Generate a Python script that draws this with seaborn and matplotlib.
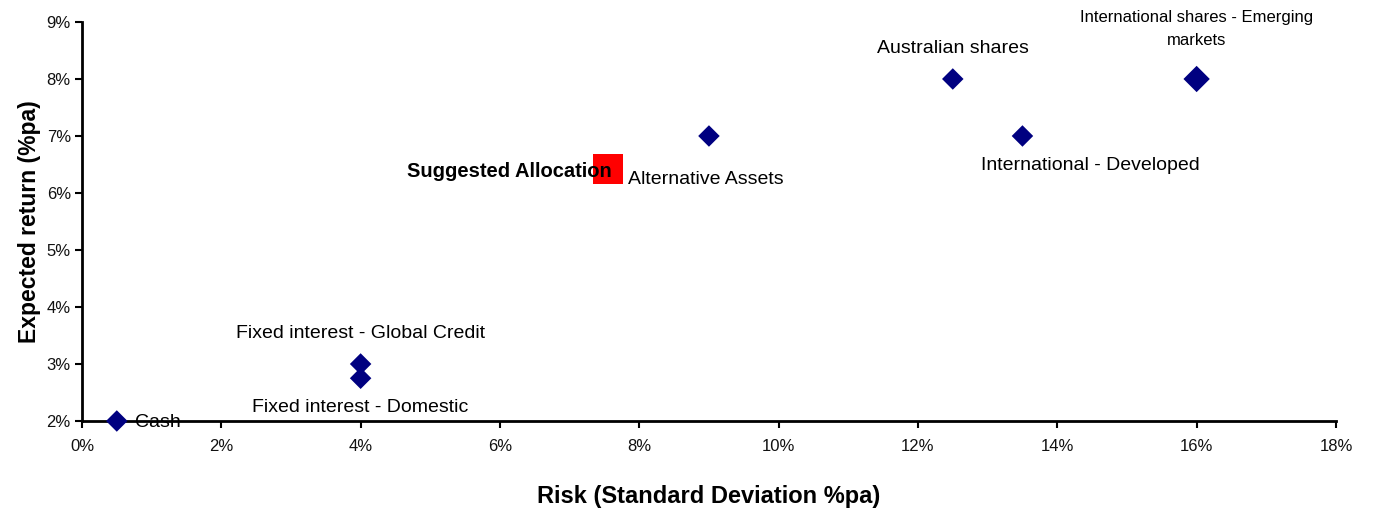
import matplotlib
matplotlib.use("Agg")
import matplotlib.pyplot as plt
import seaborn as sns
import pandas as pd
from matplotlib.ticker import PercentFormatter

# Asset classes: risk (std dev, %pa) and expected return (%pa)
assets = ["Cash", "Fixed interest - Global Credit", "Fixed interest - Domestic",
          "Alternative Assets", "Australian shares", "International - Developed",
          "International shares - Emerging\nmarkets"]
risk = [0.5, 4.0, 4.0, 9.0, 12.5, 13.5, 16.0]
ret = [2.0, 3.0, 2.75, 7.0, 8.0, 7.0, 8.0]

# Portfolio point
alloc_label = "Suggested Allocation"
alloc_risk = [7.55]
alloc_ret = [6.42]

x_ticks = list(range(0, 19, 2))
y_ticks = list(range(2, 10))

sns.set_theme(style="white")
plt.rcParams["font.family"] = ["Liberation Sans", "DejaVu Sans"]
plt.rcParams["text.color"] = "black"
plt.rcParams["axes.labelcolor"] = "black"

fig = plt.figure(figsize=(13.75, 5.09), dpi=100)
ax = fig.add_axes([0.0596, 0.1729, 0.912, 0.7839])

df = pd.DataFrame({"asset": assets, "risk": risk, "ret": ret})
main = df.iloc[:-1]
emerging = df.iloc[-1:]

sns.scatterplot(data=main, x="risk", y="ret", marker="D", s=120, color="#000080",
                edgecolor="none", ax=ax, zorder=3, clip_on=False)
sns.scatterplot(data=emerging, x="risk", y="ret", marker="D", s=180, color="#000080",
                edgecolor="none", ax=ax, zorder=3, clip_on=False)
sns.scatterplot(x=alloc_risk, y=alloc_ret, marker="s", s=440, color="#ff0000",
                edgecolor="none", ax=ax, zorder=2, clip_on=False)

# Label offsets in points relative to each marker
offsets = {
    "Cash": (13, -1, "left", "center", 14, 1.2),
    "Fixed interest - Global Credit": (0, 22, "center", "center", 14, 1.2),
    "Fixed interest - Domestic": (0, -21, "center", "center", 14, 1.2),
    "Alternative Assets": (-58, -31, "left", "center", 14, 1.2),
    "Australian shares": (0, 22, "center", "center", 14, 1.2),
    "International - Developed": (49, -21, "center", "center", 14, 1.2),
    "International shares - Emerging\nmarkets": (0, 36, "center", "center", 12, 1.6),
}
for a, x, y in zip(assets, risk, ret):
    dx, dy, ha, va, fs, ls = offsets[a]
    ax.annotate(a, (x, y), xytext=(dx, dy), textcoords="offset points",
                ha=ha, va=va, fontsize=fs, color="black", zorder=4,
                linespacing=ls)

ax.annotate(alloc_label, (alloc_risk[0], alloc_ret[0]), xytext=(3, -2),
            textcoords="offset points", ha="right", va="center",
            fontsize=14.5, fontweight="bold", color="black", zorder=4)

ax.set_xlim(0, 18)
ax.set_ylim(2, 9)
ax.set_xticks(x_ticks)
ax.set_yticks(y_ticks)
ax.xaxis.set_major_formatter(PercentFormatter(decimals=0))
ax.yaxis.set_major_formatter(PercentFormatter(decimals=0))
ax.tick_params(axis="both", which="major", direction="out", length=5, width=1.5,
               color="black", labelsize=12, labelcolor="#111111", bottom=True, left=True)
ax.tick_params(axis="x", pad=8)
ax.tick_params(axis="y", pad=3)

for side in ["top", "right"]:
    ax.spines[side].set_visible(False)
for side in ["left", "bottom"]:
    ax.spines[side].set_color("black")
    ax.spines[side].set_linewidth(2)

ax.set_xlabel("Risk (Standard Deviation %pa)", fontsize=17, fontweight="bold",
              labelpad=22)
ax.set_ylabel("Expected return (%pa)", fontsize=16.5, fontweight="bold", labelpad=4)
ax.grid(False)

fig.savefig("out.png", dpi=100)
